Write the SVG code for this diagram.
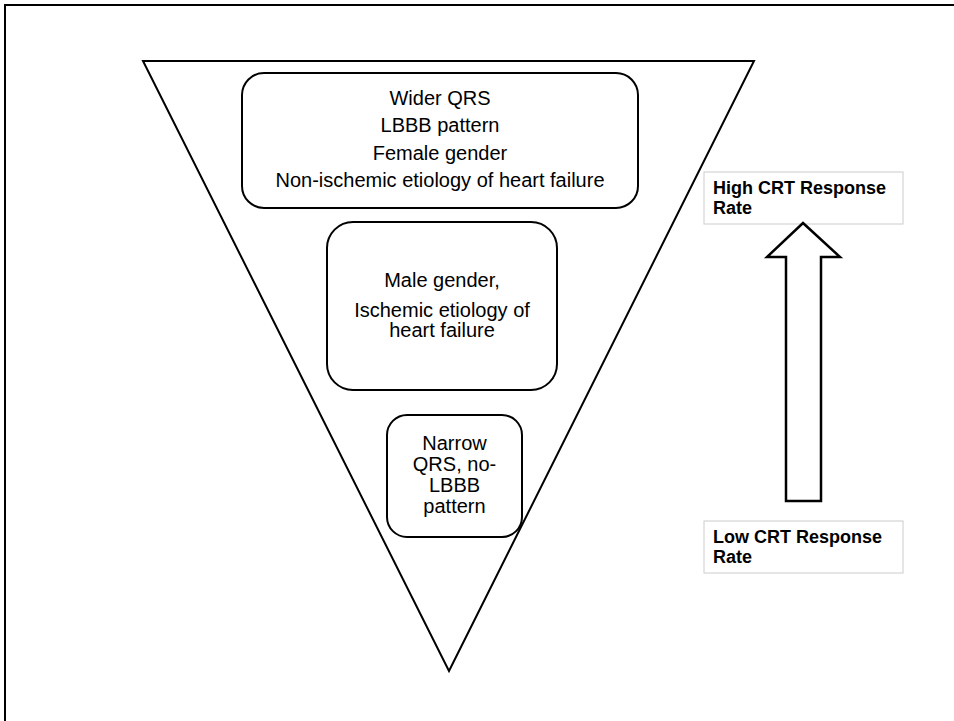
<svg xmlns="http://www.w3.org/2000/svg" width="954" height="721" viewBox="0 0 954 721">
  <style>
    .shape { fill: #ffffff; stroke: #000000; stroke-width: 2; }
    .node { fill: #ffffff; stroke: #000000; stroke-width: 2; }
    .label { fill: #ffffff; stroke: #cccccc; stroke-width: 1; }
    .t { font-family: "Liberation Sans", Arial, sans-serif; font-size: 20px; fill: #000000; text-anchor: middle; }
    .b { font-family: "Liberation Sans", Arial, sans-serif; font-size: 18px; font-weight: bold; fill: #000000; }
  </style>
  <rect x="0" y="0" width="954" height="721" fill="#ffffff"/>
  <path d="M5,721 V5 H954" fill="none" stroke="#000000" stroke-width="2"/>
  <g id="funnel">
    <polygon class="shape" points="143,61 754,61 449,671"/>
  </g>
  <g id="node-high">
    <rect class="node" x="242" y="73" width="396" height="135" rx="22" ry="22"/>
    <text class="t" x="440" y="105">Wider QRS</text>
    <text class="t" x="440" y="132">LBBB pattern</text>
    <text class="t" x="440" y="160">Female gender</text>
    <text class="t" x="440" y="187">Non-ischemic etiology of heart failure</text>
  </g>
  <g id="node-mid">
    <rect class="node" x="327" y="222" width="230" height="168" rx="26" ry="26"/>
    <text class="t" x="442" y="287">Male gender,</text>
    <text class="t" x="442" y="317">Ischemic etiology of</text>
    <text class="t" x="442" y="337">heart failure</text>
  </g>
  <g id="node-low">
    <rect class="node" x="387" y="415" width="135" height="122" rx="20" ry="20"/>
    <text class="t" x="454.5" y="450">Narrow</text>
    <text class="t" x="454.5" y="471">QRS, no-</text>
    <text class="t" x="454.5" y="492">LBBB</text>
    <text class="t" x="454.5" y="513">pattern</text>
  </g>
  <g id="label-high">
    <rect class="label" x="704" y="172" width="199" height="52"/>
    <text class="b" x="713" y="194">High CRT Response</text>
    <text class="b" x="713" y="214">Rate</text>
  </g>
  <g id="label-low">
    <rect class="label" x="704" y="521" width="199" height="52"/>
    <text class="b" x="713" y="543">Low CRT Response</text>
    <text class="b" x="713" y="563">Rate</text>
  </g>
  <g id="connectors">
    <polygon fill="#ffffff" stroke="#000000" stroke-width="2.5" points="803,223 840,257 821,257 821,501 786,501 786,257 767,257"/>
  </g>
</svg>
